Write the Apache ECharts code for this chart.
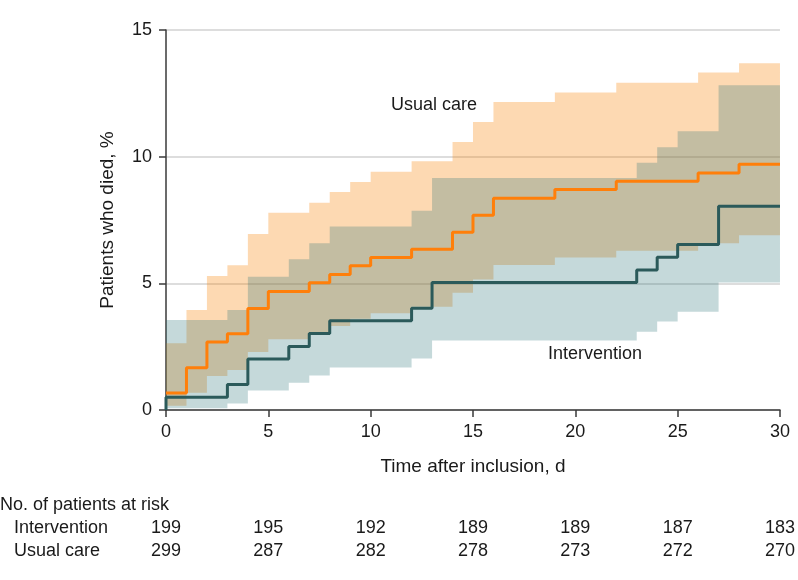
<!DOCTYPE html>
<html><head><meta charset="utf-8">
<script src="https://cdn.jsdelivr.net/npm/echarts/dist/echarts.min.js"></script>
<style>html,body{margin:0;padding:0;background:#fff}#c{width:798px;height:580px}</style>
</head><body><div id="c"></div>
<script>
// ---- data ----
const xTicks = [0, 5, 10, 15, 20, 25, 30];
const ucTimes = [0, 1, 2, 3, 4, 5, 7, 8, 9, 10, 12, 14, 15, 16, 19, 22, 26, 28, 30];
const ucEst   = [0.67, 1.67, 2.68, 3.01, 4.01, 4.68, 5.02, 5.35, 5.69, 6.02, 6.35, 7.02, 7.69, 8.36, 8.70, 9.03, 9.36, 9.70, 9.70];
const ucUpper = [2.63, 3.95, 5.29, 5.71, 6.95, 7.79, 8.18, 8.61, 9.00, 9.40, 9.82, 10.58, 11.37, 12.16, 12.53, 12.92, 13.32, 13.69, 13.69];
const ucLower = [0.17, 0.68, 1.34, 1.58, 2.29, 2.79, 3.05, 3.32, 3.60, 3.82, 4.08, 4.63, 5.15, 5.72, 6.02, 6.29, 6.58, 6.90, 6.90];
const ivTimes = [0, 3, 4, 6, 7, 8, 12, 13, 23, 24, 25, 27, 30];
const ivEst   = [0.50, 1.01, 2.01, 2.51, 3.02, 3.52, 4.02, 5.03, 5.53, 6.03, 6.53, 8.04, 8.04];
const ivUpper = [3.55, 3.95, 5.26, 5.95, 6.58, 7.24, 7.87, 9.16, 9.76, 10.37, 11.00, 12.82, 12.82];
const ivLower = [0.07, 0.26, 0.77, 1.08, 1.36, 1.68, 2.03, 2.74, 3.09, 3.49, 3.88, 5.03, 5.03];
const riskIntervention = [199, 195, 192, 189, 189, 187, 183];
const riskUsual = [299, 287, 282, 278, 273, 272, 270];

// ---- build ----
const FONT = '"Liberation Sans", Arial, sans-serif';
const pairs = (t, v) => t.map((x, i) => [x, v[i]]);

const chart = echarts.init(document.getElementById('c'), null, {renderer: 'canvas'});

function riskAxis(values, offset) {
  return {
    type: 'value', gridIndex: 0, position: 'bottom', offset: offset,
    min: 0, max: 30, interval: 5,
    axisLine: {show: false}, axisTick: {show: false}, splitLine: {show: false},
    axisLabel: {
      margin: 0, color: '#1a1a1a', fontSize: 18, fontFamily: FONT,
      formatter: v => { const i = xTicks.indexOf(v); return i >= 0 ? String(values[i]) : ''; }
    }
  };
}

// step band polygon drawn through the axes' scales
function bandSeries(times, lower, upper, color, z) {
  return {
    type: 'custom', coordinateSystem: 'cartesian2d', silent: true, z: z,
    data: pairs(times, lower),
    encode: {x: 0, y: 1},
    renderItem: function (params, api) {
      if (params.dataIndex !== 0) return null;
      const pts = [];
      for (let i = 0; i < times.length - 1; i++) {
        pts.push(api.coord([times[i], upper[i]]));
        pts.push(api.coord([times[i + 1], upper[i]]));
      }
      for (let i = times.length - 2; i >= 0; i--) {
        pts.push(api.coord([times[i + 1], lower[i]]));
        pts.push(api.coord([times[i], lower[i]]));
      }
      return {type: 'polygon', shape: {points: pts}, style: {fill: color, stroke: null}};
    }
  };
}

const option = {
  animation: false,
  backgroundColor: '#fff',
  grid: {left: 166, right: 18, top: 30, bottom: 170, containLabel: false},
  xAxis: [
    {
      type: 'value', min: 0, max: 30, interval: 5,
      name: 'Time after inclusion, d', nameLocation: 'middle', nameGap: 47,
      nameTextStyle: {fontSize: 19, color: '#1a1a1a', fontFamily: FONT},
      axisLine: {show: true, lineStyle: {color: '#3a3a3a', width: 1.5}},
      axisTick: {show: true, length: 7, lineStyle: {color: '#3a3a3a', width: 1.5}},
      axisLabel: {margin: 13, color: '#1a1a1a', fontSize: 18, fontFamily: FONT},
      splitLine: {show: false}
    },
    riskAxis(riskIntervention, 109),
    riskAxis(riskUsual, 132)
  ],
  yAxis: {
    type: 'value', min: 0, max: 15, interval: 5,
    name: 'Patients who died, %', nameLocation: 'middle', nameGap: 49,
    nameTextStyle: {fontSize: 19, color: '#1a1a1a', fontFamily: FONT},
    axisLine: {show: true, lineStyle: {color: '#3a3a3a', width: 1.5}},
    axisTick: {show: true, length: 7, lineStyle: {color: '#3a3a3a', width: 1.5}},
    axisLabel: {margin: 14, color: '#1a1a1a', fontSize: 18, fontFamily: FONT},
    splitLine: {show: true, lineStyle: {color: '#d2d2d2', width: 1.5}}
  },
  graphic: [
    {type: 'text', left: 0, top: 496, style: {text: 'No. of patients at risk', font: '18px ' + FONT, fill: '#1a1a1a'}},
    {type: 'text', left: 14, top: 519, style: {text: 'Intervention', font: '18px ' + FONT, fill: '#1a1a1a'}},
    {type: 'text', left: 14, top: 542, style: {text: 'Usual care', font: '18px ' + FONT, fill: '#1a1a1a'}}
  ],
  series: [
    bandSeries(ucTimes, ucLower, ucUpper, 'rgba(250,128,0,0.3)', 1),
    bandSeries(ivTimes, ivLower, ivUpper, 'rgba(40,115,118,0.27)', 2),
    {type: 'line', data: pairs(ucTimes, ucEst), step: 'end', symbol: 'none',
     lineStyle: {color: '#ff7f0a', width: 3}, silent: true, z: 4,
     markPoint: {
       symbol: 'circle', symbolSize: 1, itemStyle: {color: 'rgba(0,0,0,0)'}, silent: true,
       label: {show: true, position: 'inside', color: '#1a1a1a', fontSize: 18, fontFamily: FONT, formatter: p => p.name},
       data: [{name: 'Usual care', coord: [13.1, 12.04]}, {name: 'Intervention', coord: [20.96, 2.21]}]
     }},
    {type: 'line', data: [[0, 0]].concat(pairs(ivTimes, ivEst)), step: 'end', symbol: 'none',
     lineStyle: {color: '#2b5a5a', width: 3}, silent: true, z: 5}
  ]
};
chart.setOption(option);
</script>
</body></html>
